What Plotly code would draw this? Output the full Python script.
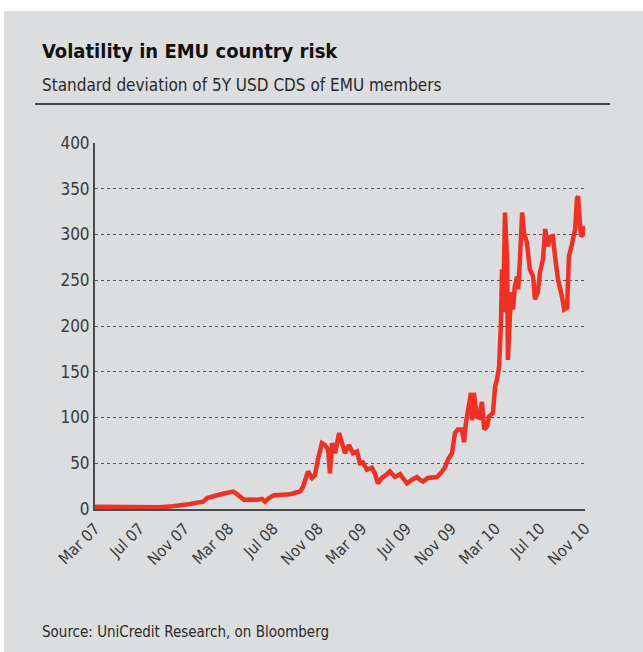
import plotly.graph_objects as go

# Standard deviation of 5Y USD CDS spreads across EMU members (bp)
dates = [
    "2007-03-01", "2007-04-11", "2007-05-22", "2007-07-02", "2007-07-29", "2007-08-26",
    "2007-09-30", "2007-10-31", "2007-11-16", "2007-12-05", "2007-12-22", "2008-01-02",
    "2008-01-15", "2008-01-29", "2008-02-17", "2008-03-04", "2008-03-13", "2008-03-21",
    "2008-04-01", "2008-04-12", "2008-04-28", "2008-05-17", "2008-05-31", "2008-06-08",
    "2008-06-19", "2008-07-03", "2008-07-25", "2008-08-16", "2008-09-01", "2008-09-12",
    "2008-09-20", "2008-09-26", "2008-10-04", "2008-10-15", "2008-10-23", "2008-10-31",
    "2008-11-11", "2008-11-19", "2008-11-28", "2008-12-03", "2008-12-09", "2008-12-17",
    "2008-12-28", "2009-01-05", "2009-01-13", "2009-01-24", "2009-02-04", "2009-02-15",
    "2009-02-23", "2009-03-03", "2009-03-14", "2009-03-28", "2009-04-05", "2009-04-13",
    "2009-04-24", "2009-05-05", "2009-05-16", "2009-05-30", "2009-06-13", "2009-06-24",
    "2009-07-02", "2009-07-16", "2009-07-29", "2009-08-06", "2009-08-15", "2009-08-28",
    "2009-09-22", "2009-10-06", "2009-10-14", "2009-10-22", "2009-11-02", "2009-11-10",
    "2009-11-18", "2009-11-29", "2009-12-05", "2009-12-10", "2009-12-19", "2009-12-24",
    "2009-12-27", "2010-01-01", "2010-01-09", "2010-01-15", "2010-01-23", "2010-01-29",
    "2010-02-06", "2010-02-11", "2010-02-22", "2010-02-28", "2010-03-05", "2010-03-11",
    "2010-03-16", "2010-03-19", "2010-03-22", "2010-03-27", "2010-04-02", "2010-04-04",
    "2010-04-10", "2010-04-15", "2010-04-18", "2010-04-23", "2010-04-29", "2010-05-02",
    "2010-05-07", "2010-05-13", "2010-05-18", "2010-05-26", "2010-06-03", "2010-06-12",
    "2010-06-17", "2010-06-25", "2010-07-01", "2010-07-09", "2010-07-15", "2010-07-23",
    "2010-07-28", "2010-08-05", "2010-08-11", "2010-08-19", "2010-08-30", "2010-09-05",
    "2010-09-13", "2010-09-18", "2010-09-26", "2010-10-05", "2010-10-10", "2010-10-13",
    "2010-10-18", "2010-10-21", "2010-10-26", "2010-10-29", "2010-11-01",
]
cds_std = [
    2.5, 2.2, 2.0, 1.5, 1.3, 1.8,
    3.0, 4.0, 5.5, 7, 8, 12,
    13, 15, 17, 18, 19, 17,
    13, 10, 10.5, 10, 11, 8,
    12, 15, 15.5, 16, 18, 19,
    24, 32, 41, 34, 37, 54,
    72, 70, 65, 39, 72, 61,
    83, 72, 61, 70, 61, 63,
    50, 51, 43, 45, 39, 28,
    34, 37, 41, 35, 38, 32,
    28, 32, 35, 32, 30, 34,
    35, 41, 46, 54, 61, 83,
    87, 87, 73, 94, 115, 127,
    97, 127, 101, 100, 117, 87,
    90, 101, 105, 134, 141, 156,
    204, 262, 215, 324, 270, 163,
    215, 237, 218, 243, 254, 240,
    273, 324, 302, 291, 262, 254,
    229, 237, 259, 273, 306, 287,
    297, 298, 276, 251, 232, 218,
    220, 276, 289, 306, 339, 342,
    313, 298, 300, 309, 304,
]

y_ticks = [0, 50, 100, 150, 200, 250, 300, 350, 400]

title_text = "Volatility in EMU country risk"
subtitle_text = "Standard deviation of 5Y USD CDS of EMU members"
source_text = "Source: UniCredit Research, on Bloomberg"

W, H = 643, 652
L, R, T, B = 95, 58, 143, 143
PW, PH = W - L - R, H - T - B

FONT = "DejaVu Sans Condensed, Liberation Sans Narrow, sans-serif"
BG = "#DCDDDF"
INK = "#231F20"


def px(x):
    return (x - L) / PW


def py(y):
    return (H - B - y) / PH


fig = go.Figure()
fig.add_trace(go.Scatter(
    x=dates, y=cds_std, mode="lines",
    line=dict(color="#EE3124", width=4.5),
    hoverinfo="skip", showlegend=False,
))

fig.update_layout(
    width=W, height=H,
    margin=dict(l=L, r=R, t=T, b=B, autoexpand=False),
    paper_bgcolor=BG, plot_bgcolor=BG,
    font=dict(family=FONT, color=INK),
    xaxis=dict(
        type="date", range=["2007-03-01", "2010-11-01"],
        tick0="2007-03-01", dtick="M4", tickformat="%b %y",
        tickangle=-45, tickfont=dict(size=16, color="#3a3a3a"),
        showgrid=False, zeroline=False,
        showline=True, linecolor="#4a4a4a", linewidth=2,
        ticks="", ticklabelstandoff=2, layer="below traces",
    ),
    yaxis=dict(
        range=[0, 400], tickvals=y_ticks,
        tickfont=dict(size=17, color="#3a3a3a"),
        showgrid=True, gridcolor="#555555", gridwidth=1, griddash="dot",
        zeroline=False, showline=True, linecolor="#4a4a4a", linewidth=2,
        ticks="", ticklabelstandoff=0, layer="below traces",
    ),
    shapes=[
        # white margins framing the grey panel
        dict(type="rect", xref="paper", yref="paper", layer="below",
             x0=px(0), x1=px(W), y0=py(11), y1=py(0),
             fillcolor="white", line=dict(width=0)),
        dict(type="rect", xref="paper", yref="paper", layer="below",
             x0=px(0), x1=px(4), y0=py(H), y1=py(0),
             fillcolor="white", line=dict(width=0)),
        # rule under the subtitle
        dict(type="line", xref="paper", yref="paper",
             x0=px(35), x1=px(610), y0=py(104), y1=py(104),
             line=dict(color="#111111", width=1.5)),
    ],
    annotations=[
        dict(text=f"<b>{title_text}</b>", xref="paper", yref="paper",
             x=px(40), y=py(51), xanchor="left", yanchor="middle",
             showarrow=False, font=dict(size=20, color="#111111")),
        dict(text=subtitle_text, xref="paper", yref="paper",
             x=px(40), y=py(85), xanchor="left", yanchor="middle",
             showarrow=False, font=dict(size=17, color="#2a2a2a")),
        dict(text=source_text, xref="paper", yref="paper",
             x=px(40), y=py(632), xanchor="left", yanchor="middle",
             showarrow=False, font=dict(size=15, color="#2a2a2a")),
    ],
)

fig.write_html("out.html")
